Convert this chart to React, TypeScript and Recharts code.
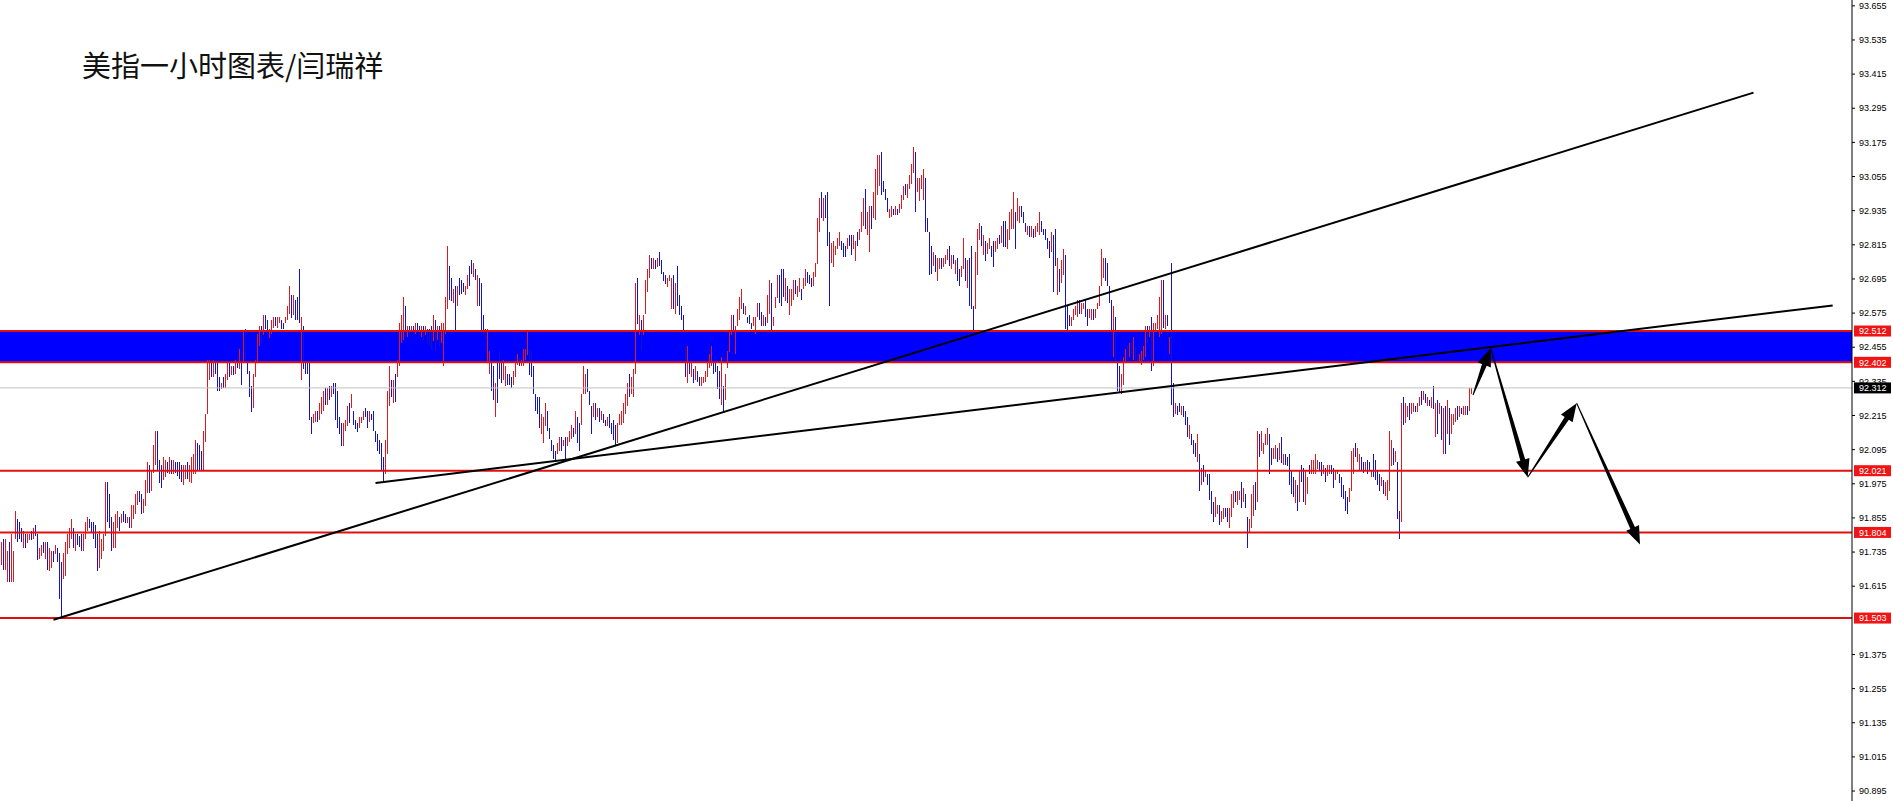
import { ComposedChart, Bar, Cell, XAxis, YAxis, ReferenceLine, ReferenceArea } from "recharts";

// hourly bars, left to right (high / low)
const HIGH = [
  91.77,91.78,91.78,91.74,91.77,91.80,91.74,91.88,91.85,91.84,
  91.82,91.81,91.80,91.80,91.80,91.81,91.82,91.83,91.80,91.75,
  91.76,91.77,91.77,91.77,91.75,91.74,91.74,91.76,91.75,91.73,
  91.70,91.73,91.77,91.80,91.82,91.85,91.82,91.80,91.80,91.79,
  91.80,91.80,91.84,91.86,91.85,91.84,91.84,91.83,91.80,91.81,
  91.78,91.80,91.98,91.98,91.94,91.86,91.84,91.87,91.88,91.86,
  91.87,91.88,91.87,91.86,91.86,91.90,91.90,91.94,91.95,91.95,
  91.94,91.92,91.99,92.05,92.04,92.02,92.11,92.16,92.16,92.06,
  92.04,92.07,92.06,92.05,92.07,92.06,92.06,92.05,92.05,92.05,
  92.04,92.04,92.04,92.05,92.04,92.07,92.08,92.13,92.12,92.11,
  92.09,92.16,92.22,92.41,92.41,92.41,92.41,92.41,92.40,92.35,
  92.33,92.35,92.36,92.40,92.40,92.39,92.39,92.41,92.42,92.45,
  92.43,92.51,92.52,92.40,92.37,
  92.32,92.36,92.41,92.50,92.53,92.53,92.57,92.57,92.55,92.52,
  92.55,92.56,92.56,92.56,92.56,92.55,92.54,92.56,92.60,92.67,
  92.64,92.64,92.62,92.63,92.73,92.56,92.53,92.40,92.40,92.40,
  92.21,92.22,92.23,92.23,92.26,92.28,92.30,92.31,92.31,92.32,
  92.32,92.33,92.33,92.30,92.21,92.19,92.19,92.20,92.25,92.26,
  92.29,92.23,92.20,92.19,92.21,92.21,92.23,92.24,92.23,92.23,
  92.22,92.23,92.16,92.15,92.13,92.12,92.07,92.13,92.30,92.39,
  92.34,92.34,92.36,92.41,92.54,92.57,92.63,92.60,92.53,92.53,
  92.53,92.53,92.54,92.54,92.53,92.53,92.53,92.53,92.52,92.52,
  92.53,92.57,92.55,92.53,92.53,92.54,92.54,92.63,92.81,92.74,
  92.70,92.66,92.67,92.67,92.70,92.69,92.68,92.67,92.71,92.74,
  92.76,92.75,92.73,92.71,92.70,92.68,92.57,92.52,92.52,92.44,
  92.40,92.39,92.33,92.40,92.44,
  92.41,92.41,92.39,92.36,92.36,92.35,92.37,92.40,92.43,92.42,
  92.41,92.45,92.45,92.51,92.45,92.44,92.39,92.29,92.28,92.28,
  92.22,92.21,92.26,92.23,92.17,92.13,92.11,92.09,92.12,92.14,
  92.14,92.13,92.14,92.14,92.16,92.18,92.17,92.23,92.21,92.19,
  92.29,92.39,92.36,92.38,92.30,92.25,92.26,92.26,92.24,92.24,
  92.23,92.22,92.20,92.21,92.22,92.19,92.20,92.18,92.19,92.22,
  92.23,92.26,92.29,92.33,92.36,92.35,92.38,92.68,92.70,92.57,
  92.55,92.57,92.69,92.73,92.78,92.77,92.77,92.76,92.77,92.79,
  92.76,92.72,92.71,92.70,92.71,92.70,92.71,92.68,92.74,92.64,
  92.60,92.57,92.46,92.46,92.40,92.40,92.38,92.39,92.37,92.35,
  92.35,92.35,92.37,92.40,92.43,92.46,92.40,92.40,92.39,92.37,
  92.42,92.32,92.36,92.44,92.51,92.57,92.57,92.53,92.59,92.63,
  92.66,92.61,92.60,92.56,92.57,
  92.54,92.56,92.56,92.61,92.61,92.58,92.57,92.56,92.64,92.69,
  92.68,92.56,92.63,92.71,92.71,92.73,92.73,92.70,92.67,92.66,
  92.66,92.69,92.69,92.67,92.70,92.66,92.70,92.73,92.72,92.71,
  92.70,92.72,92.75,92.91,92.98,93.00,92.98,92.99,93.00,92.86,
  92.82,92.83,92.81,92.84,92.86,92.83,92.82,92.81,92.84,92.85,
  92.85,92.85,92.83,92.86,92.87,92.93,92.98,93.01,92.93,92.95,
  92.95,93.00,93.08,93.13,93.13,93.14,93.04,93.01,92.98,92.94,
  92.95,92.94,92.95,92.94,92.96,92.99,93.02,93.03,93.03,93.06,
  93.10,93.16,93.14,93.05,93.05,93.06,93.08,93.05,92.91,92.86,
  92.81,92.79,92.78,92.77,92.77,92.77,92.77,92.78,92.80,92.81,
  92.78,92.78,92.76,92.77,92.73,92.74,92.84,92.77,92.76,92.77,
  92.81,92.60,92.79,92.87,92.89,92.88,92.85,92.83,92.82,92.84,
  92.81,92.83,92.83,92.84,92.85,
  92.88,92.90,92.90,92.87,92.93,92.94,93.00,92.93,92.98,92.95,
  92.95,92.93,92.89,92.88,92.88,92.88,92.87,92.88,92.89,92.93,
  92.90,92.87,92.87,92.84,92.83,92.86,92.85,92.87,92.77,92.73,
  92.76,92.80,92.78,92.60,92.57,92.56,92.59,92.60,92.62,92.62,
  92.61,92.61,92.62,92.59,92.59,92.59,92.59,92.59,92.61,92.67,
  92.80,92.77,92.77,92.75,92.67,92.62,92.60,92.56,92.40,92.39,
  92.36,92.42,92.45,92.46,92.47,92.47,92.49,92.46,92.43,92.43,
  92.44,92.46,92.53,92.53,92.53,92.56,92.54,92.54,92.57,92.63,
  92.69,92.69,92.57,92.57,92.49,92.75,92.33,92.26,92.25,92.26,
  92.25,92.25,92.23,92.21,92.18,92.15,92.13,92.12,92.15,92.08,
  92.03,92.04,92.02,92.01,92.01,91.95,91.91,91.93,91.90,91.90,
  91.88,91.89,91.89,91.89,91.89,91.94,91.95,91.95,91.95,91.95,
  91.98,91.96,91.94,91.86,91.85,
  91.94,91.97,91.98,92.16,92.15,92.16,92.12,92.15,92.17,92.15,
  92.10,92.10,92.11,92.10,92.12,92.14,92.08,92.08,92.07,92.08,
  92.02,92.00,91.99,91.97,92.02,92.04,92.03,92.02,92.00,92.04,
  92.06,92.06,92.08,92.06,92.05,92.05,92.04,92.03,92.04,92.04,
  92.04,92.03,92.02,92.02,92.01,92.00,91.97,91.95,91.93,91.96,
  92.09,92.10,92.12,92.10,92.08,92.07,92.05,92.05,92.06,92.05,
  92.02,92.08,92.06,92.02,92.01,92.00,91.99,91.98,91.99,92.16,
  92.13,92.10,92.09,92.05,91.88,92.26,92.28,92.26,92.25,92.26,
  92.26,92.26,92.25,92.26,92.28,92.30,92.30,92.29,92.28,92.27,
  92.28,92.32,92.26,92.27,92.26,92.25,92.24,92.25,92.27,92.24,
  92.22,92.22,92.24,92.25,92.25,92.24,92.25,92.25,92.25,92.31,
  92.31,
];

const LOW = [
  91.69,91.67,91.67,91.63,91.63,91.63,91.63,91.78,91.77,91.78,
  91.77,91.75,91.75,91.77,91.78,91.78,91.78,91.79,91.71,91.71,
  91.72,91.73,91.71,91.67,91.67,91.68,91.70,91.73,91.70,91.57,
  91.50,91.64,91.65,91.73,91.75,91.78,91.75,91.74,91.76,91.75,
  91.74,91.74,91.78,91.81,91.82,91.80,91.78,91.75,91.67,91.68,
  91.71,91.74,91.79,91.84,91.82,91.74,91.75,91.75,91.82,91.81,
  91.84,91.84,91.84,91.84,91.82,91.82,91.85,91.87,91.90,91.91,
  91.87,91.87,91.90,91.94,91.94,91.95,92.01,92.04,92.02,91.98,
  91.96,91.99,92.00,92.01,92.01,92.01,92.01,92.01,92.00,91.99,
  91.98,91.97,91.99,91.99,91.98,91.98,92.01,92.01,92.02,92.02,
  92.02,92.02,92.12,92.22,92.34,92.35,92.35,92.36,92.30,92.30,
  92.31,92.31,92.31,92.34,92.35,92.36,92.36,92.36,92.38,92.38,
  92.32,92.40,92.41,92.36,92.28,
  92.23,92.24,92.35,92.40,92.46,92.47,92.50,92.52,92.50,92.49,
  92.50,92.52,92.53,92.52,92.54,92.52,92.52,92.54,92.55,92.57,
  92.56,92.57,92.55,92.55,92.54,92.34,92.38,92.36,92.36,92.20,
  92.15,92.19,92.19,92.19,92.20,92.22,92.23,92.25,92.25,92.27,
  92.28,92.29,92.20,92.17,92.15,92.11,92.11,92.16,92.18,92.19,
  92.24,92.18,92.17,92.16,92.17,92.19,92.20,92.21,92.17,92.19,
  92.20,92.16,92.12,92.09,92.08,92.02,91.98,92.01,92.08,92.25,
  92.28,92.26,92.26,92.35,92.39,92.47,92.48,92.49,92.49,92.49,
  92.51,92.50,92.50,92.51,92.50,92.49,92.48,92.50,92.47,92.46,
  92.45,92.48,92.44,92.48,92.46,92.47,92.39,92.50,92.59,92.62,
  92.62,92.61,92.51,92.60,92.64,92.64,92.65,92.64,92.66,92.67,
  92.71,92.70,92.69,92.60,92.60,92.51,92.50,92.49,92.40,92.36,
  92.30,92.27,92.21,92.26,92.34,
  92.33,92.34,92.32,92.32,92.32,92.31,92.32,92.35,92.39,92.39,
  92.39,92.39,92.41,92.43,92.36,92.35,92.29,92.23,92.22,92.17,
  92.15,92.12,92.18,92.16,92.13,92.09,92.06,92.06,92.08,92.09,
  92.09,92.11,92.06,92.11,92.12,92.13,92.14,92.15,92.12,92.09,
  92.18,92.29,92.29,92.30,92.25,92.15,92.21,92.20,92.21,92.19,
  92.20,92.19,92.18,92.18,92.17,92.15,92.13,92.11,92.12,92.18,
  92.18,92.19,92.22,92.25,92.28,92.29,92.28,92.36,92.54,92.50,
  92.44,92.50,92.57,92.65,92.70,92.73,92.73,92.73,92.74,92.74,
  92.71,92.69,92.68,92.67,92.69,92.59,92.59,92.57,92.60,92.57,
  92.55,92.51,92.35,92.33,92.36,92.35,92.33,92.34,92.33,92.32,
  92.32,92.33,92.33,92.35,92.38,92.39,92.36,92.37,92.31,92.27,
  92.25,92.23,92.27,92.38,92.44,92.50,92.49,92.43,92.53,92.55,
  92.59,92.57,92.57,92.54,92.54,
  92.52,92.53,92.50,92.56,92.55,92.53,92.53,92.53,92.54,92.57,
  92.51,92.53,92.59,92.63,92.61,92.60,92.63,92.62,92.61,92.57,
  92.60,92.62,92.64,92.63,92.65,92.62,92.66,92.67,92.68,92.68,
  92.67,92.67,92.70,92.75,92.86,92.91,92.90,92.91,92.81,92.60,
  92.75,92.74,92.78,92.80,92.81,92.80,92.77,92.77,92.80,92.81,
  92.78,92.80,92.76,92.81,92.83,92.86,92.88,92.87,92.85,92.79,
  92.87,92.91,92.90,92.99,93.02,92.99,93.00,92.97,92.93,92.91,
  92.91,92.92,92.92,92.92,92.93,92.94,92.97,92.99,92.98,93.01,
  93.03,93.07,92.93,93.00,92.97,93.01,92.97,92.86,92.86,92.71,
  92.71,92.74,92.72,92.69,92.73,92.73,92.74,92.75,92.76,92.74,
  92.73,92.75,92.71,92.69,92.67,92.70,92.73,92.69,92.66,92.60,
  92.59,92.51,92.59,92.71,92.83,92.81,92.78,92.76,92.78,92.80,
  92.77,92.74,92.79,92.80,92.82,
  92.82,92.81,92.81,92.80,92.83,92.87,92.87,92.80,92.90,92.89,
  92.91,92.89,92.86,92.85,92.84,92.84,92.84,92.84,92.86,92.85,
  92.86,92.85,92.83,92.80,92.77,92.79,92.65,92.74,92.64,92.65,
  92.68,92.71,92.52,92.51,92.53,92.53,92.55,92.57,92.56,92.57,
  92.57,92.59,92.56,92.53,92.56,92.55,92.55,92.56,92.59,92.60,
  92.67,92.70,92.69,92.67,92.61,92.50,92.42,92.40,92.30,92.30,
  92.29,92.32,92.40,92.41,92.42,92.43,92.41,92.40,92.40,92.40,
  92.39,92.41,92.42,92.47,92.49,92.37,92.39,92.51,92.52,92.49,
  92.50,92.52,92.52,92.53,92.43,92.25,92.21,92.22,92.22,92.23,
  92.22,92.21,92.18,92.14,92.13,92.11,92.08,92.07,92.05,91.95,
  91.97,91.98,92.00,91.97,91.92,91.87,91.84,91.86,91.87,91.83,
  91.84,91.85,91.86,91.84,91.82,91.86,91.89,91.91,91.90,91.92,
  91.89,91.91,91.89,91.75,91.80,
  91.82,91.86,91.88,91.91,92.07,92.09,92.08,92.11,92.11,92.01,
  92.04,92.06,92.06,92.05,92.06,92.05,92.04,92.04,92.04,91.97,
  91.94,91.93,91.91,91.88,91.91,91.98,91.91,91.90,91.94,92.01,
  92.01,92.01,92.01,92.03,92.02,92.00,92.01,91.98,92.00,92.01,
  92.01,91.96,91.99,92.01,91.98,91.93,91.92,91.88,91.87,91.91,
  91.95,92.01,92.07,92.05,92.02,92.02,92.01,92.02,92.01,92.02,
  92.00,92.00,91.99,91.97,91.95,91.97,91.94,91.93,91.92,91.95,
  92.04,92.04,92.05,91.85,91.78,91.84,92.18,92.19,92.21,92.20,
  92.22,92.23,92.23,92.23,92.25,92.25,92.27,92.26,92.25,92.25,
  92.24,92.24,92.14,92.15,92.22,92.13,92.08,92.08,92.15,92.11,
  92.15,92.18,92.19,92.20,92.21,92.22,92.22,92.22,92.22,92.23,
  92.29,
];

// R = up bar (red), B = down bar (blue)
const DIRS = (
  "RBRRBRRRBBBRBRRBRBBRRBRBRRBRBBBRRRRRBRBBBRRRBBBBBRRRRBBBRRRBRBBRBRRRRBBRRRBRRRBBBRRBRBRBBBBRRBRRRRBBBRRRRBRBBBRBRRBRBRBRBRBBB" +
  "BRRRRBRBBRRRBRRBBRRRBRBBBRBBBBBRRBRRRBRBRBBBBBRRRBRBBBRRRBBRBBBBBBBRRRBRBRRRRBRBRBRBBRBRBBBRBRBRRRRBBRBRBBBRRBBRBRBBBBRRBBRBB" +
  "BRRBBBRRRBRRRRBBBBBBRRRBBBBBRRBRBRRRBRBBRRRBBBRBRBRBBRBBBBRRRRRRBRRRBRBRRRRBRBRBBBBRRRBRBBBBBRBRBRBBRRRRRRBBBBRBRRRRBRRRRBRBB" +
  "BRRRBBRBRRBRRRBBBRBRRRBRRBRRBBBRRRRBRBBBRRRRRBBBRBBRRBRRRBRRBRRRRBBBBRRBRBRRRBRRRRBRRRRBBBBRBRRBRRRBRBRBBRRBRBBBRRRBRBRRBBRRB" +
  "RBBRRRRBRRBBBRBRBRRRBBBBBRBBRBRRBBBRRRRBRRBBRRBRRRRRBBBBRBBBRRRBRBRBBRRRRBRBRRRRRBRBRBBRBBRBBBRBBBRBRBRBBBBRRBRRBBRRRBRRBRBBR" +
  "RRBRBRRRRBBRRBRBRBBBBBRBRBBRRBRRRRBBRBRRBBRRBBBBBRRRBRRBBRBBRBBBBRBRRRRBRBBRBRRBRRBRRBRBRBRBRBRBRBRBRRRBRBRRBRR"
).split("");

// the 91.495 label sits under the 91.503 price tag, so it is left out
const TICKS = [
  93.655, 93.535, 93.415, 93.295, 93.175, 93.055, 92.935, 92.815, 92.695, 92.575, 92.455, 92.335,
  92.215, 92.095, 91.975, 91.855, 91.735, 91.615, 91.375, 91.255, 91.135, 91.015, 90.895,
];

const ZONE = [92.402, 92.512];
const SUPPORTS = [92.021, 91.804, 91.503];
const LAST_PRICE = 92.312;

// trend lines and the projected path, in (bar index, price)
const TRENDLINES = [
  [{ x: 26, y: 91.497 }, { x: 876, y: 93.35 }],
  [{ x: 187, y: 91.978 }, { x: 915.6, y: 92.602 }],
];
const PATH = [
  [{ x: 735.75, y: 92.287 }, { x: 744.6, y: 92.452 }],
  [{ x: 744.6, y: 92.452 }, { x: 763.1, y: 91.998 }],
  [{ x: 763.1, y: 91.998 }, { x: 787.6, y: 92.258 }],
  [{ x: 787.6, y: 92.258 }, { x: 819.25, y: 91.762 }],
];

const UP = "#e01820";
const DOWN = "#1414c4";
const LEVEL_RED = "#e01010";
const AXIS_FONT = "'Liberation Sans', Arial, sans-serif";

const data = HIGH.map((h, i) => ({ i, range: [LOW[i], h], up: DIRS[i] !== "B" }));

function tag(price: number, bg: string) {
  return (props: any) => {
    const vb = props.viewBox || {};
    const x = (vb.x ?? 0) + (vb.width ?? 0) + 2;
    const y = vb.y ?? 0;
    return (
      <g>
        <rect x={x} y={y - 5.5} width={37} height={11} fill={bg} />
        <text x={x + 5} y={y + 3.3} fill="#fff" fontSize={9} fontFamily={AXIS_FONT}>
          {price.toFixed(3)}
        </text>
      </g>
    );
  };
}

// 1px high-low stick, snapped to the pixel grid
function stick(p: any) {
  const cx = Math.round(p.x + p.width / 2 - 0.5);
  const h = Math.max(Math.round(p.height), 1);
  return <rect x={cx} y={Math.round(p.y)} width={1} height={h} fill={p.fill} shapeRendering="crispEdges" />;
}

// tapered MT4-style arrow, thin at the start, head at the end
function arrow(p: any) {
  const { x1, y1, x2, y2 } = p;
  const dx = x2 - x1;
  const dy = y2 - y1;
  const len = Math.hypot(dx, dy) || 1;
  const ux = dx / len;
  const uy = dy / len;
  const nx = -uy;
  const ny = ux;
  const head = Math.min(18, len * 0.4);
  const bx = x2 - ux * head;
  const by = y2 - uy * head;
  const pt = (x: number, y: number, w: number) => `${x + nx * w},${y + ny * w}`;
  const points = [
    pt(x1, y1, 0.5),
    pt(bx, by, 2.5),
    pt(bx, by, 7),
    `${x2},${y2}`,
    pt(bx, by, -7),
    pt(bx, by, -2.5),
    pt(x1, y1, -0.5),
  ].join(" ");
  return <polygon points={points} fill="#000" />;
}

export default function App() {
  return (
    <div style={{ position: "absolute", left: 0, top: 0, width: 1893, height: 801, background: "#fff" }}>
      <ComposedChart width={1893} height={801} data={data} margin={{ top: 0, right: 0, bottom: 0, left: 0 }}>
        <XAxis dataKey="i" type="number" domain={[-0.75, 925.25]} allowDataOverflow hide />
        <YAxis
          orientation="right"
          type="number"
          width={41}
          domain={[90.86, 93.6755]}
          allowDataOverflow
          ticks={TICKS}
          interval={0}
          tickFormatter={(v: number) => v.toFixed(3)}
          tick={{ fontSize: 9, fill: "#000", fontFamily: AXIS_FONT }}
          tickSize={3}
          tickMargin={4}
          axisLine={{ stroke: "#000" }}
          tickLine={{ stroke: "#000" }}
        />
        <ReferenceArea y1={ZONE[0]} y2={ZONE[1]} fill="#0000ff" fillOpacity={1} stroke="none" />
        <ReferenceLine y={LAST_PRICE} stroke="#c0c0c0" strokeWidth={1} label={tag(LAST_PRICE, "#000")} />
        {ZONE.map((v) => (
          <ReferenceLine key={"z" + v} y={v} stroke={LEVEL_RED} strokeWidth={2} label={tag(v, "#f01414")} />
        ))}
        {SUPPORTS.map((v) => (
          <ReferenceLine key={"s" + v} y={v} stroke={LEVEL_RED} strokeWidth={2} label={tag(v, "#f01414")} />
        ))}
        <Bar dataKey="range" barSize={1} isAnimationActive={false} shape={stick}>
          {data.map((d) => (
            <Cell key={d.i} fill={d.up ? UP : DOWN} />
          ))}
        </Bar>
        {TRENDLINES.map((seg, k) => (
          <ReferenceLine key={"t" + k} segment={seg} stroke="#000" strokeWidth={2} />
        ))}
        {PATH.map((seg, k) => (
          <ReferenceLine key={"a" + k} segment={seg} stroke="#000" shape={arrow} />
        ))}
      </ComposedChart>
      <div
        style={{
          position: "absolute",
          left: 82,
          top: 50,
          fontSize: 29,
          lineHeight: "29px",
          fontFamily: "'Noto Sans CJK SC', sans-serif",
          color: "#111",
          whiteSpace: "nowrap",
        }}
      >
        美指一小时图表/闫瑞祥
      </div>
    </div>
  );
}
